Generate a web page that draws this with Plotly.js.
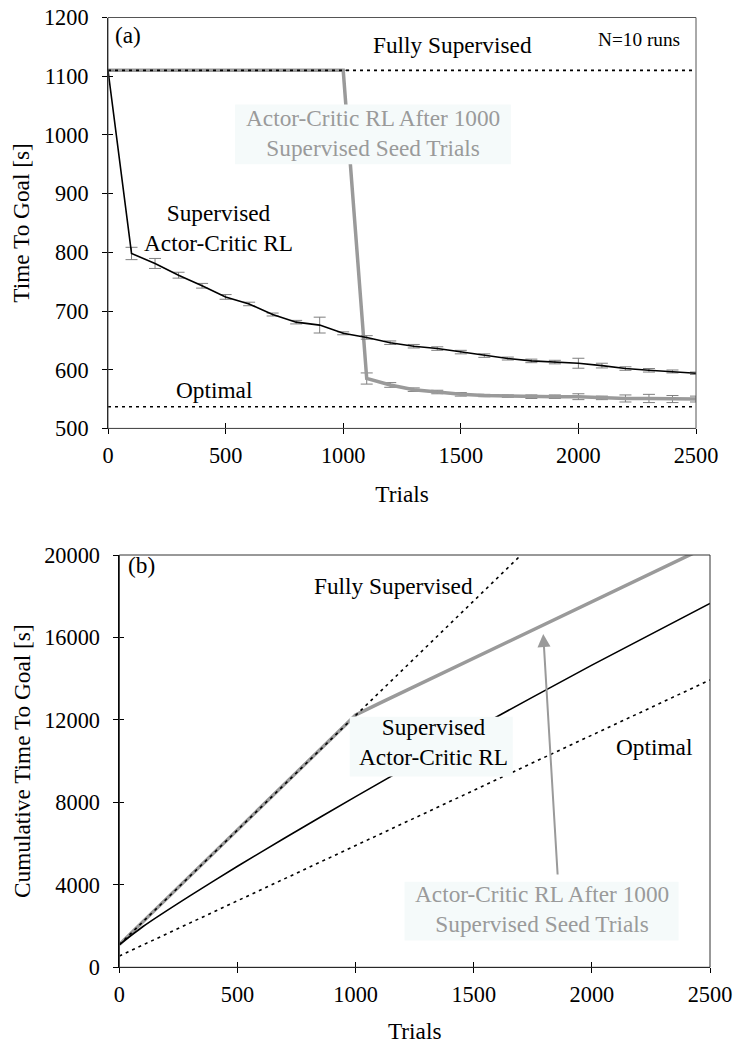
<!DOCTYPE html>
<html>
<head>
<meta charset="utf-8">
<script src="https://cdn.plot.ly/plotly-3.0.1.min.js"></script>
<style>html,body{margin:0;padding:0;background:#fff;}#chart{width:734px;height:1044px;}</style>
</head>
<body>
<div id="chart"></div>
<script>
// ---------- Data ----------
// Panel (a): time to goal per trial
const trials = [0,100,200,300,400,500,600,700,800,900,1000,1100,1200,1300,1400,1500,1600,1700,1800,1900,2000,2100,2200,2300,2400,2500];
const supRL    = [1110,798,781,761,743,724,712,694,681,676,662,655,646,640,636,630,624,619,615,613,611,607,602,599,597,594];
const supRLErr = [0,10.5,8.5,5,4,4,3,2.5,3,13.5,2.5,3,3,3,3,3,3,2.5,3,3,8.5,4,3,3,2.5,2];
const seedTrials = [0,1000,1100,1200,1300,1400,1500,1600,1700,1800,1900,2000,2100,2200,2300,2400,2500];
const seedRL     = [1110,1110,585,574,566,562,558,556,555,554,554,554,552,551,551,550,550];
const seedRLErr  = [0,0,9.5,4,3,3,3,2,2,3,3,5,3,6,7,6,5];
const fullySupTrials = [0,2500];
const fullySupTime   = [1110,1110];
const optimalTrials  = [0,2500];
const optimalTime    = [537,537];

// Panel (b): cumulative time to goal
const cumSupTrials = [0,100,300,500,700,1000,1500,2000,2500];
const cumSupRL     = [1100,1980,3480,4900,6270,8280,11540,14660,17650];
const cumSeedTrials = [0,1000,1100,1500,2000,2450];
const cumSeedRL     = [1100,12240,12800,14990,17720,20200];
const cumFullyTrials = [0,1000,1700];
const cumFullySup    = [1100,12240,20000];
const cumOptTrials = [0,2500];
const cumOptimal   = [550,13940];

const xTicks = [0,500,1000,1500,2000,2500];
const yTicksA = [500,600,700,800,900,1000,1100,1200];
const yTicksB = [0,4000,8000,12000,16000,20000];

// ---------- Styling ----------
const FONT = 'Liberation Serif, Times New Roman, Times, serif';
const GREY = '#9a9a9a';
const ERR = '#7f7f7f';
const BOX = '#f5fafa';
const W = 734, H = 1044;
const px = v => v / W;
const py = v => 1 - v / H;
const LBL = 23.3;

const errStyle = (arr) => ({type:'data', array:arr, visible:true, color:ERR, thickness:1, width:6});

const traces = [
  // Panel (a)
  {x:seedTrials, y:seedRL, xaxis:'x', yaxis:'y', mode:'lines', line:{color:GREY, width:3.5}, error_y:errStyle(seedRLErr), showlegend:false, hoverinfo:'skip'},
  {x:trials, y:supRL, xaxis:'x', yaxis:'y', mode:'lines', line:{color:'#000', width:1.6}, error_y:errStyle(supRLErr), showlegend:false, hoverinfo:'skip'},
  {x:fullySupTrials, y:fullySupTime, xaxis:'x', yaxis:'y', mode:'lines', line:{color:'#000', width:1.6, dash:'3px,4px'}, showlegend:false, hoverinfo:'skip'},
  {x:optimalTrials, y:optimalTime, xaxis:'x', yaxis:'y', mode:'lines', line:{color:'#000', width:1.6, dash:'3px,4px'}, showlegend:false, hoverinfo:'skip'},
  // Panel (b)
  {x:cumSeedTrials, y:cumSeedRL, xaxis:'x2', yaxis:'y2', mode:'lines', line:{color:GREY, width:3.5}, showlegend:false, hoverinfo:'skip'},
  {x:cumSupTrials, y:cumSupRL, xaxis:'x2', yaxis:'y2', mode:'lines', line:{color:'#000', width:1.6, shape:'spline', smoothing:0.6}, showlegend:false, hoverinfo:'skip'},
  {x:cumFullyTrials, y:cumFullySup, xaxis:'x2', yaxis:'y2', mode:'lines', line:{color:'#000', width:1.6, dash:'3px,4px'}, showlegend:false, hoverinfo:'skip'},
  {x:cumOptTrials, y:cumOptimal, xaxis:'x2', yaxis:'y2', mode:'lines', line:{color:'#000', width:1.6, dash:'3px,4px'}, showlegend:false, hoverinfo:'skip'},
  // empty traces to activate overlay axes (inside tick halves)
  {x:[null], y:[null], xaxis:'x3', yaxis:'y3', showlegend:false, hoverinfo:'skip'},
  {x:[null], y:[null], xaxis:'x4', yaxis:'y4', showlegend:false, hoverinfo:'skip'}
];

const tickFont = {family:FONT, size:22.3, color:'#000'};
const titleFont = {family:FONT, size:LBL, color:'#000'};

const baseX = {range:[0,2500], tickvals:xTicks, ticks:'outside', ticklen:5, tickcolor:'#000', tickwidth:1,
  showline:true, linecolor:'#000', linewidth:1, showgrid:false, zeroline:false, tickfont:tickFont,
  ticklabelstandoff:2, fixedrange:true};
const baseY = {ticks:'outside', ticklen:5, tickcolor:'#000', tickwidth:1,
  showline:true, linecolor:'#000', linewidth:1, showgrid:false, zeroline:false, tickfont:tickFont,
  ticklabelstandoff:9, fixedrange:true, tickformat:'d'};
const innerTicks = {ticks:'inside', ticklen:5, tickcolor:'#000', tickwidth:1, showticklabels:false,
  showline:false, showgrid:false, zeroline:false, fixedrange:true};

const domXA = [px(108), px(696)];
const domYA = [py(428.4), py(17.5)];
const domXB = [px(119.4), px(710)];
const domYB = [py(967.3), py(555)];

const ann = (xref, yref, x, y, text, extra) => Object.assign({xref, yref, x, y, text, showarrow:false,
  xanchor:'center', yanchor:'middle', align:'center', font:{family:FONT, size:LBL, color:'#000'}}, extra||{});

const layout = {
  width:W, height:H,
  margin:{l:0, r:0, t:0, b:0},
  paper_bgcolor:'#fff', plot_bgcolor:'#fff',
  font:{family:FONT, color:'#000'},
  showlegend:false,
  xaxis: Object.assign({}, baseX, {domain:domXA, anchor:'y', title:{text:'Trials', font:titleFont, standoff:18}}),
  yaxis: Object.assign({}, baseY, {domain:domYA, anchor:'x', range:[500,1200], tickvals:yTicksA, title:{text:'Time To Goal [s]', font:titleFont, standoff:7}}),
  xaxis2: Object.assign({}, baseX, {domain:domXB, anchor:'y2', title:{text:'Trials', font:titleFont, standoff:29}}),
  yaxis2: Object.assign({}, baseY, {domain:domYB, anchor:'x2', range:[0,20000], tickvals:yTicksB, title:{text:'Cumulative Time To Goal [s]', font:titleFont, standoff:7}}),
  xaxis3: Object.assign({}, innerTicks, {overlaying:'x', anchor:'y3', range:[0,2500], tickvals:xTicks, side:'bottom'}),
  yaxis3: Object.assign({}, innerTicks, {overlaying:'y', anchor:'x3', range:[500,1200], tickvals:yTicksA, side:'left'}),
  xaxis4: Object.assign({}, innerTicks, {overlaying:'x2', anchor:'y4', range:[0,2500], tickvals:xTicks, side:'bottom'}),
  yaxis4: Object.assign({}, innerTicks, {overlaying:'y2', anchor:'x4', range:[0,20000], tickvals:yTicksB, side:'left'}),
  shapes: [
    {type:'rect', xref:'x domain', yref:'y domain', x0:0, x1:1, y0:0, y1:1, line:{color:'#555', width:1}, layer:'above'},
    {type:'rect', xref:'x2 domain', yref:'y2 domain', x0:0, x1:1, y0:0, y1:1, line:{color:'#333', width:1}, layer:'above'},
    // light label backgrounds
    {type:'rect', xref:'x', yref:'y', x0:540, x1:1713, y0:950, y1:1052, fillcolor:BOX, line:{width:0}, layer:'above'},
    {type:'rect', xref:'x2', yref:'y2', x0:975, x1:1665, y0:9250, y1:12150, fillcolor:BOX, line:{width:0}, layer:'above'},
    {type:'rect', xref:'x2', yref:'y2', x0:1207, x1:2367, y0:1300, y1:4150, fillcolor:BOX, line:{width:0}, layer:'above'}
  ],
  annotations: [
    // Panel (a)
    ann('x','y',85,1170,'(a)'),
    ann('x','y',1463,1153,'Fully Supervised'),
    ann('x','y',2259,1163,'N=10 runs',{font:{family:FONT, size:19.3, color:'#000'}}),
    ann('x','y',1127,1002.6,'Actor-Critic RL After 1000<br>Supervised Seed Trials',{font:{family:FONT, size:LBL, color:GREY}}),
    ann('x','y',468,842,'Supervised<br>Actor-Critic RL'),
    ann('x','y',451,565,'Optimal'),
    // Panel (b)
    ann('x2','y2',92,19530,'(b)'),
    ann('x2','y2',1161,18497,'Fully Supervised',{bgcolor:'#fff'}),
    ann('x2','y2',1331,10905,'Supervised<br>Actor-Critic RL'),
    ann('x2','y2',2263,10700,'Optimal'),
    ann('x2','y2',1788,2843,'Actor-Critic RL After 1000<br>Supervised Seed Trials',{font:{family:FONT, size:LBL, color:GREY}}),
    {xref:'x2', yref:'y2', x:1794, y:16167, ax:14.5, ay:242, text:'', showarrow:true,
     arrowhead:2, arrowsize:1.3, arrowwidth:2, arrowcolor:GREY, standoff:0}
  ]
};

Plotly.newPlot('chart', traces, layout, {staticPlot:true, displayModeBar:false});
</script>
</body>
</html>
